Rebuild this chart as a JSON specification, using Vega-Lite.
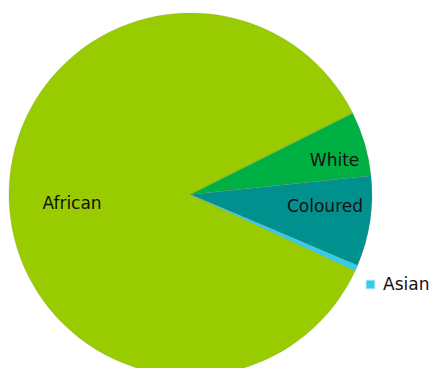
{
  "$schema": "https://vega.github.io/schema/vega-lite/v6.json",
  "autosize": "none",
  "width": 381,
  "height": 347,
  "padding": {"left": 0, "top": 21, "right": 49, "bottom": 0},
  "background": "white",
  "config": {"view": {"stroke": null}, "font": "DejaVu Sans"},
  "data": {
    "values": [
      {"group": "African", "share": 85.72},
      {"group": "White", "share": 5.75},
      {"group": "Coloured", "share": 8.03},
      {"group": "Asian", "share": 0.5}
    ]
  },
  "encoding": {
    "theta": {"field": "share", "type": "quantitative", "stack": true, "scale": {"range": [1.1065, 7.3897]}},
    "order": {"field": "group", "type": "nominal", "sort": "descending"}
  },
  "layer": [
    {
      "mark": {"type": "arc", "outerRadius": 181.5, "stroke": "#6f7f4a", "strokeWidth": 0.4, "strokeOpacity": 0.5},
      "encoding": {
        "color": {
          "field": "group",
          "type": "nominal",
          "scale": {"domain": ["African", "White", "Coloured", "Asian"], "range": ["#99cc00", "#00b043", "#00918e", "#33ccee"]},
          "legend": {
            "values": ["Asian"],
            "title": null,
            "orient": "none",
            "legendX": 362,
            "legendY": 255,
            "symbolType": "square",
            "symbolSize": 72,
            "symbolStrokeColor": "#8fe0f5",
            "symbolStrokeWidth": 1,
            "labelFontSize": 17,
            "labelFont": "DejaVu Sans",
            "labelColor": "#111111",
            "labelOffset": 4
          }
        }
      }
    },
    {
      "mark": {"type": "text", "radius": 118.5, "dy": 8, "fontSize": 17, "font": "DejaVu Sans", "fill": "#111111"},
      "encoding": {"text": {"field": "group", "condition": {"test": "datum.group !== 'African'", "value": ""}}}
    },
    {
      "mark": {"type": "text", "radius": 148, "dx": 2, "dy": 8, "fontSize": 17, "font": "DejaVu Sans", "fill": "#111111"},
      "encoding": {"text": {"field": "group", "condition": {"test": "datum.group !== 'White'", "value": ""}}}
    },
    {
      "mark": {"type": "text", "radius": 136, "dy": -8, "fontSize": 17, "font": "DejaVu Sans", "fill": "#111111"},
      "encoding": {"text": {"field": "group", "condition": {"test": "datum.group !== 'Coloured'", "value": ""}}}
    }
  ]
}
